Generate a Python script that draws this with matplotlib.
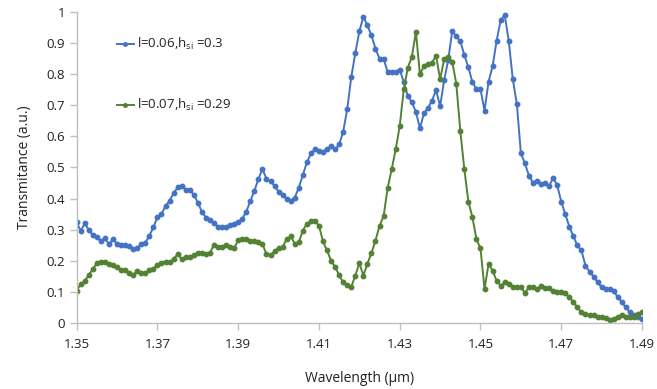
import matplotlib
matplotlib.use("Agg")
import matplotlib.pyplot as plt

wavelength = [
    1.350, 1.351, 1.352, 1.353, 1.354, 1.355, 1.356, 1.357, 1.358, 1.359,
    1.360, 1.361, 1.362, 1.363, 1.364, 1.365, 1.366, 1.367, 1.368, 1.369,
    1.370, 1.371, 1.372, 1.373, 1.374, 1.375, 1.376, 1.377, 1.378, 1.379,
    1.380, 1.381, 1.382, 1.383, 1.384, 1.385, 1.386, 1.387, 1.388, 1.389,
    1.390, 1.391, 1.392, 1.393, 1.394, 1.395, 1.396, 1.397, 1.398, 1.399,
    1.400, 1.401, 1.402, 1.403, 1.404, 1.405, 1.406, 1.407, 1.408, 1.409,
    1.410, 1.411, 1.412, 1.413, 1.414, 1.415, 1.416, 1.417, 1.418, 1.419,
    1.420, 1.421, 1.422, 1.423, 1.424, 1.425, 1.426, 1.427, 1.428, 1.429,
    1.430, 1.431, 1.432, 1.433, 1.434, 1.435, 1.436, 1.437, 1.438, 1.439,
    1.440, 1.441, 1.442, 1.443, 1.444, 1.445, 1.446, 1.447, 1.448, 1.449,
    1.450, 1.451, 1.452, 1.453, 1.454, 1.455, 1.456, 1.457, 1.458, 1.459,
    1.460, 1.461, 1.462, 1.463, 1.464, 1.465, 1.466, 1.467, 1.468, 1.469,
    1.470, 1.471, 1.472, 1.473, 1.474, 1.475, 1.476, 1.477, 1.478, 1.479,
    1.480, 1.481, 1.482, 1.483, 1.484, 1.485, 1.486, 1.487, 1.488, 1.489,
    1.490,
]

series1 = [
    0.323, 0.296, 0.320, 0.299, 0.282, 0.276, 0.264, 0.272, 0.253, 0.270,
    0.254, 0.250, 0.250, 0.248, 0.239, 0.241, 0.254, 0.258, 0.280, 0.308,
    0.340, 0.350, 0.376, 0.393, 0.417, 0.436, 0.441, 0.428, 0.428, 0.412,
    0.387, 0.358, 0.339, 0.331, 0.320, 0.310, 0.308, 0.308, 0.314, 0.317,
    0.323, 0.335, 0.358, 0.392, 0.425, 0.462, 0.496, 0.463, 0.455, 0.441,
    0.422, 0.412, 0.398, 0.393, 0.403, 0.435, 0.476, 0.516, 0.545, 0.559,
    0.553, 0.549, 0.559, 0.569, 0.558, 0.574, 0.615, 0.688, 0.791, 0.868,
    0.938, 0.985, 0.957, 0.925, 0.882, 0.850, 0.850, 0.807, 0.807, 0.807,
    0.815, 0.775, 0.730, 0.710, 0.679, 0.626, 0.674, 0.692, 0.715, 0.749,
    0.697, 0.781, 0.845, 0.939, 0.922, 0.906, 0.862, 0.822, 0.774, 0.752,
    0.752, 0.683, 0.776, 0.826, 0.908, 0.974, 0.990, 0.907, 0.784, 0.704,
    0.546, 0.513, 0.474, 0.451, 0.458, 0.447, 0.451, 0.440, 0.467, 0.442,
    0.390, 0.349, 0.310, 0.278, 0.249, 0.233, 0.184, 0.165, 0.149, 0.131,
    0.114, 0.108, 0.108, 0.101, 0.083, 0.066, 0.050, 0.034, 0.026, 0.020,
    0.013,
]

series2 = [
    0.103, 0.125, 0.135, 0.154, 0.173, 0.192, 0.197, 0.197, 0.190, 0.186,
    0.179, 0.170, 0.170, 0.162, 0.154, 0.168, 0.162, 0.159, 0.170, 0.174,
    0.186, 0.194, 0.197, 0.196, 0.205, 0.221, 0.205, 0.211, 0.211, 0.217,
    0.224, 0.226, 0.222, 0.226, 0.251, 0.245, 0.245, 0.249, 0.245, 0.240,
    0.267, 0.270, 0.269, 0.264, 0.265, 0.259, 0.254, 0.221, 0.218, 0.230,
    0.241, 0.244, 0.270, 0.278, 0.255, 0.259, 0.297, 0.319, 0.327, 0.327,
    0.313, 0.262, 0.233, 0.200, 0.180, 0.153, 0.130, 0.122, 0.116, 0.152,
    0.192, 0.152, 0.191, 0.225, 0.265, 0.312, 0.343, 0.433, 0.494, 0.558,
    0.633, 0.751, 0.821, 0.856, 0.936, 0.800, 0.826, 0.832, 0.837, 0.860,
    0.784, 0.848, 0.856, 0.840, 0.770, 0.618, 0.494, 0.390, 0.340, 0.269,
    0.240, 0.109, 0.190, 0.168, 0.135, 0.120, 0.130, 0.124, 0.117, 0.115,
    0.115, 0.097, 0.114, 0.114, 0.108, 0.119, 0.111, 0.111, 0.101, 0.100,
    0.100, 0.095, 0.083, 0.066, 0.050, 0.034, 0.028, 0.026, 0.024, 0.020,
    0.020, 0.017, 0.010, 0.013, 0.020, 0.024, 0.020, 0.020, 0.020, 0.028,
    0.034,
]

label1 = r"l=0.06,h$_{\mathregular{si}}$ =0.3"
label2 = r"l=0.07,h$_{\mathregular{si}}$ =0.29"
x_ticks = [1.35, 1.37, 1.39, 1.41, 1.43, 1.45, 1.47, 1.49]
x_tick_labels = ["1.35", "1.37", "1.39", "1.41", "1.43", "1.45", "1.47", "1.49"]
y_ticks = [0, 0.1, 0.2, 0.3, 0.4, 0.5, 0.6, 0.7, 0.8, 0.9, 1]
y_tick_labels = ["0", "0.1", "0.2", "0.3", "0.4", "0.5", "0.6", "0.7", "0.8", "0.9", "1"]

plt.rcParams["font.family"] = ["Open Sans", "DejaVu Sans"]
plt.rcParams["mathtext.default"] = "regular"

fig = plt.figure(figsize=(6.57, 3.89), dpi=100)
ax = fig.add_axes([0.1167, 0.170, 0.8605, 0.799])

blue = "#4472C4"
green = "#548235"
ax.plot(wavelength, series1, color=blue, lw=1.4, marker="o", ms=3.2, label=label1)
ax.plot(wavelength, series2, color=green, lw=1.4, marker="o", ms=3.2, label=label2)

ax.set_xlim(1.35, 1.49)
ax.set_ylim(0, 1)
ax.set_xticks(x_ticks)
ax.set_xticklabels(x_tick_labels)
ax.set_yticks(y_ticks)
ax.set_yticklabels(y_tick_labels)

axis_gray = "#BFBFBF"
for side in ["top", "right"]:
    ax.spines[side].set_visible(False)
for side in ["left", "bottom"]:
    ax.spines[side].set_color(axis_gray)
    ax.spines[side].set_linewidth(1.0)
ax.tick_params(axis="both", colors=axis_gray, length=5, width=1.0,
               labelcolor="#222222", labelsize=9.5)
ax.tick_params(axis="x", pad=6)

ax.set_xlabel("Wavelength (μm)", fontsize=10, color="#222222", labelpad=14)
ax.set_ylabel("Transmitance (a.u.)", fontsize=10, color="#222222", labelpad=10)

leg = ax.legend(loc="upper left", bbox_to_anchor=(0.05, 0.96), frameon=False,
                fontsize=9.5, labelspacing=3.4, handlelength=1.3, handletextpad=0.2,
                markerscale=0.8)
for t in leg.get_texts():
    t.set_color("#222222")

fig.savefig("out.png", dpi=100)
